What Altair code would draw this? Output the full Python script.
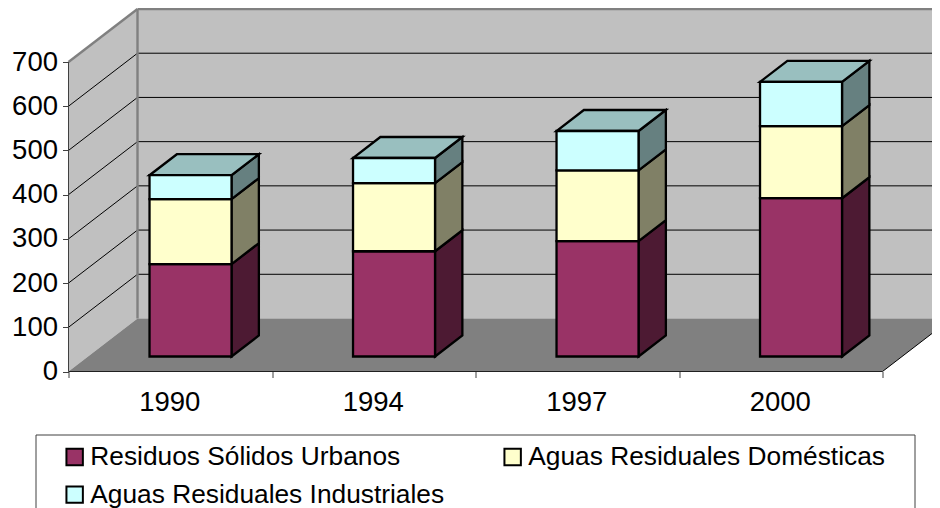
import altair as alt
import pandas as pd

years = ["1990", "1994", "1997", "2000"]
series = ["Residuos Sólidos Urbanos", "Aguas Residuales Domésticas", "Aguas Residuales Industriales"]
residuos = [209, 238, 261, 358]
domesticas = [147, 154, 160, 163]
industriales = [54, 57, 89, 100]
front_colors = ["#993366", "#FFFFCC", "#CCFFFF"]
side_colors = ["#4D1A33", "#808066", "#668080"]
top_color = "#99BFBF"
y_ticks = [0, 100, 200, 300, 400, 500, 600, 700]

# Projection: category units on x, value units on y, depth 0..1 shifts both
PX_X = 203.5
PX_Y = 309.5 / 700
DX = 69 / PX_X
DY = 53 / PX_Y
VIEW_W = 863.5
VIEW_H = 363.5
BAR_W = 82 / PX_X
BAR_LEFT = 61.5 / PX_X
D_FRONT = 15 / 53
D_BAR = 21 / 53
WALL_TOP = 700
BAR_STROKE = 2.3

x_scale = alt.Scale(domain=[0, VIEW_W / PX_X], range=[0, VIEW_W], nice=False, zero=False)
y_scale = alt.Scale(domain=[0, VIEW_H / PX_Y], range=[VIEW_H, 0], nice=False, zero=False)
x_axis = alt.Axis(
    values=[0, 1, 2, 3, 4], labelExpr="['1990','1994','1997','2000',''][datum.value]",
    labelOffset=PX_X / 2 - 1, domain=False, grid=False, tickColor="#404040", tickSize=6,
    labelFont="Liberation Sans", labelFontSize=27.5, labelColor="#000000", labelPadding=11,
    labelBound=False, labelFlush=False, labelAngle=0, labelOverlap=False, title=None)
y_axis = alt.Axis(
    values=y_ticks, domain=False, grid=False, tickColor="#404040", tickSize=6,
    labelFont="Liberation Sans", labelFontSize=27.5, labelColor="#000000", labelPadding=5,
    labelOverlap=False, title=None)
XP = alt.X("x:Q", scale=x_scale, axis=x_axis)
YP = alt.Y("y:Q", scale=y_scale, axis=y_axis)

# Walls and floor
left_wall = pd.DataFrame({"x": [0, DX], "y": [0, DY], "y2": [WALL_TOP, WALL_TOP + DY]})
back_wall = pd.DataFrame({"x": [DX, 4 + DX], "y": [DY, DY], "y2": [WALL_TOP + DY, WALL_TOP + DY]})
floor = pd.DataFrame({"y": [0, DY], "x": [0, DX], "x2": [4, 4 + DX]})

wall_layer = alt.layer(
    alt.Chart(left_wall).mark_area(color="#C0C0C0").encode(x=XP, y=YP, y2="y2:Q"),
    alt.Chart(back_wall).mark_area(color="#C0C0C0").encode(x=XP, y=YP, y2="y2:Q"),
)
floor_layer = alt.Chart(floor).mark_area(orient="horizontal", color="#808080").encode(
    x=XP, x2="x2:Q", y=YP)
wall_edges = pd.DataFrame({
    "x": [0, DX, DX], "x2": [DX, 4 + DX, DX],
    "y": [WALL_TOP, WALL_TOP + DY, DY], "y2": [WALL_TOP + DY, WALL_TOP + DY, WALL_TOP + DY],
})
edge_layer = alt.Chart(wall_edges).mark_rule(color="#808080", strokeWidth=2.4).encode(
    x=XP, x2="x2:Q", y=YP, y2="y2:Q")

# Gridlines
grid_vals = y_ticks[1:-1]
n = len(grid_vals)
grid_left = pd.DataFrame({"x": [0] * n, "x2": [DX] * n, "y": grid_vals, "y2": [v + DY for v in grid_vals]})
grid_back = pd.DataFrame({"x": [DX] * n, "x2": [4 + DX] * n, "y": [v + DY for v in grid_vals], "y2": [v + DY for v in grid_vals]})
grid_layer = alt.layer(
    alt.Chart(grid_left).mark_rule(color="#000000", strokeWidth=1).encode(x=XP, x2="x2:Q", y=YP, y2="y2:Q"),
    alt.Chart(grid_back).mark_rule(color="#000000", strokeWidth=1).encode(x=XP, x2="x2:Q", y=YP, y2="y2:Q"),
)

# Bars
front_rows, side_rows, top_rows = [], [], []
for i, year in enumerate(years):
    x0 = i + BAR_LEFT + D_FRONT * DX
    x1 = x0 + BAR_W
    base = D_FRONT * DY
    shift_x = D_BAR * DX
    shift_y = D_BAR * DY
    cum = 0
    for j, (name, vals) in enumerate(zip(series, [residuos, domesticas, industriales])):
        lo, hi = cum, cum + vals[i]
        cum = hi
        front_rows.append({"x": x0, "x2": x1, "y": base + lo, "y2": base + hi, "serie": name})
        pid = f"{year}-{j}"
        side_rows.append({"x": x1, "y": base + lo, "y2": base + hi, "pid": pid, "fill": side_colors[j]})
        side_rows.append({"x": x1 + shift_x, "y": base + lo + shift_y, "y2": base + hi + shift_y, "pid": pid, "fill": side_colors[j]})
    top_rows.append({"y": base + cum, "x": x0, "x2": x1, "pid": year})
    top_rows.append({"y": base + cum + shift_y, "x": x0 + shift_x, "x2": x1 + shift_x, "pid": year})

front = pd.DataFrame(front_rows)
side = pd.DataFrame(side_rows)
top = pd.DataFrame(top_rows)

bar_front = alt.Chart(front).mark_rect(stroke="#000000", strokeWidth=BAR_STROKE).encode(
    x=XP, x2="x2:Q", y=YP, y2="y2:Q",
    color=alt.Color("serie:N", scale=alt.Scale(domain=series, range=front_colors), legend=alt.Legend(
        title=None, orient="none", legendX=-7, legendY=435.5, columns=2,
        direction="horizontal", padding=0,
        symbolType="square", symbolSize=270, symbolStrokeColor="#000000", symbolStrokeWidth=2,
        symbolOpacity=1,
        labelFont="Liberation Sans", labelFontSize=26.3, labelColor="#000000", labelLimit=600,
        labelOffset=2.5, columnPadding=55, rowPadding=11,
    )),
)
bar_side = alt.Chart(side).mark_area(stroke="#000000", strokeWidth=BAR_STROKE).encode(
    x=XP, y=YP, y2="y2:Q", detail="pid:N", fill=alt.Fill("fill:N", scale=None))
bar_top = alt.Chart(top).mark_area(orient="horizontal", stroke="#000000", strokeWidth=BAR_STROKE, color=top_color).encode(
    x=XP, x2="x2:Q", y=YP, detail="pid:N")

# Axis lines
axis_lines = alt.layer(
    alt.Chart(pd.DataFrame({"x": [0], "y": [0], "y2": [700]})).mark_rule(color="#404040", strokeWidth=1).encode(x=XP, y=YP, y2="y2:Q"),
    alt.Chart(pd.DataFrame({"x": [0], "x2": [4], "y": [0]})).mark_rule(color="#202020", strokeWidth=1).encode(x=XP, x2="x2:Q", y=YP),
    alt.Chart(pd.DataFrame({"x": [4], "x2": [4 + DX], "y": [0], "y2": [DY]})).mark_rule(color="#000000", strokeWidth=1).encode(x=XP, x2="x2:Q", y=YP, y2="y2:Q"),
)

# Legend frame
frame = alt.Chart(pd.DataFrame({
    "x": [-32.5 / PX_X], "x2": [846.5 / PX_X], "y": [-63.5 / PX_Y], "y2": [-160 / PX_Y],
})).mark_rect(fill="#FFFFFF", stroke="#404040", strokeWidth=1).encode(x=XP, x2="x2:Q", y=YP, y2="y2:Q")

chart = alt.layer(
    wall_layer, floor_layer, grid_layer, edge_layer, axis_lines, frame, bar_side, bar_top, bar_front,
).properties(
    width=VIEW_W, height=VIEW_H,
    padding={"left": 60.5, "top": 0, "right": 0, "bottom": 136.5},
    autosize=alt.AutoSizeParams(type="none"),
    background="#FFFFFF",
).configure_view(stroke=None)

chart.save("out.html", embed_options={"renderer": "svg", "actions": False})
